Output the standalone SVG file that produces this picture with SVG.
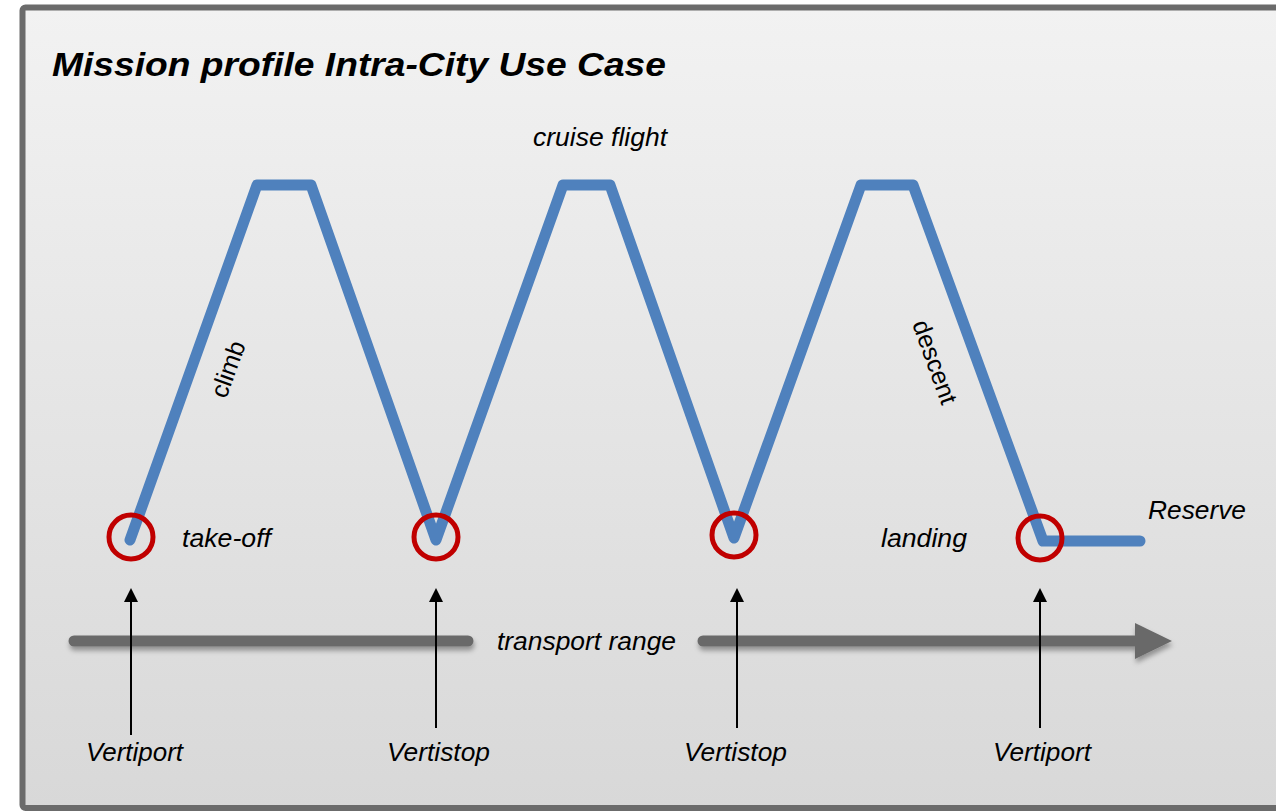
<svg xmlns="http://www.w3.org/2000/svg" width="1276" height="811" viewBox="0 0 1276 811">
  <defs>
    <linearGradient id="bg" x1="0" y1="0" x2="0" y2="1">
      <stop offset="0" stop-color="#f2f2f2"/>
      <stop offset="1" stop-color="#d8d8d8"/>
    </linearGradient>
    <filter id="shadow" x="-5%" y="-50%" width="110%" height="200%">
      <feDropShadow dx="1" dy="4" stdDeviation="2.5" flood-color="#000" flood-opacity="0.35"/>
    </filter>
    <marker id="tip" viewBox="0 0 14 14" refX="1" refY="7" markerWidth="14" markerHeight="14" markerUnits="userSpaceOnUse" orient="auto">
      <path d="M0,0 L14,7 L0,14 Z" fill="#000"/>
    </marker>
  </defs>
  <style>
    .lbl { font-family: "Liberation Sans", Arial, sans-serif; font-style: italic; font-size: 25px; fill: #000; }
    .slope { font-family: "Liberation Sans", Arial, sans-serif; font-size: 25px; fill: #000; }
    .title { font-family: "Liberation Sans", Arial, sans-serif; font-style: italic; font-weight: bold; font-size: 34px; fill: #000; }
    .profile { fill: none; stroke: #4f81bd; stroke-width: 11; stroke-linecap: round; stroke-linejoin: round; }
    .stop { fill: none; stroke: #c00000; stroke-width: 5; }
    .range { stroke: #696969; stroke-width: 11; stroke-linecap: round; fill: none; }
    .pointer { stroke: #000; stroke-width: 2; fill: none; }
  </style>

  <!-- frame -->
  <rect x="22.5" y="7.5" width="1270" height="800.5" rx="3" fill="url(#bg)" stroke="#6b6b6b" stroke-width="6"/>

  <text class="title" x="52" y="76" textLength="614" lengthAdjust="spacingAndGlyphs">Mission profile Intra-City Use Case</text>

  <!-- flight profile -->
  <g id="profile">
    <polyline class="profile" points="130,540 257,185 311,185 436,540 563,185 610,185 734,538 861,185 913,185 1043,541 1140,541"/>
  </g>

  <g id="stops">
    <circle id="stop-takeoff" class="stop" cx="131" cy="537" r="22"/>
    <circle id="stop-2" class="stop" cx="436" cy="537" r="22"/>
    <circle id="stop-3" class="stop" cx="734" cy="535" r="22"/>
    <circle id="stop-landing" class="stop" cx="1040" cy="538" r="22"/>
  </g>

  <!-- transport range arrow -->
  <g id="range" filter="url(#shadow)">
    <line class="range" x1="74" y1="641" x2="468" y2="641"/>
    <line class="range" x1="703" y1="641" x2="1138" y2="641"/>
    <path d="M1135,623 L1172,641 L1135,659 Z" fill="#696969"/>
  </g>
  <text class="lbl" x="497" y="650" textLength="179" lengthAdjust="spacingAndGlyphs">transport range</text>

  <!-- location pointers -->
  <g id="connectors">
    <line class="pointer" x1="131" y1="735" x2="131" y2="601" marker-end="url(#tip)"/>
    <line class="pointer" x1="436" y1="728" x2="436" y2="601" marker-end="url(#tip)"/>
    <line class="pointer" x1="737" y1="728" x2="737" y2="601" marker-end="url(#tip)"/>
    <line class="pointer" x1="1040" y1="728" x2="1040" y2="601" marker-end="url(#tip)"/>
  </g>

  <!-- labels -->
  <g id="labels">
    <text class="lbl" x="533" y="146" textLength="134" lengthAdjust="spacingAndGlyphs">cruise flight</text>
    <text class="lbl" x="182" y="547" textLength="89" lengthAdjust="spacingAndGlyphs">take-off</text>
    <text class="lbl" x="881" y="547" textLength="86" lengthAdjust="spacingAndGlyphs">landing</text>
    <text class="lbl" x="1148" y="519" textLength="98" lengthAdjust="spacingAndGlyphs">Reserve</text>
    <text class="slope" text-anchor="middle" transform="translate(236,372) rotate(-70)">climb</text>
    <text class="slope" text-anchor="middle" transform="translate(927,365) rotate(70)">descent</text>
  </g>

  <g id="places">
    <text class="lbl" x="86" y="761" textLength="97" lengthAdjust="spacingAndGlyphs">Vertiport</text>
    <text class="lbl" x="387" y="761" textLength="103" lengthAdjust="spacingAndGlyphs">Vertistop</text>
    <text class="lbl" x="684" y="761" textLength="103" lengthAdjust="spacingAndGlyphs">Vertistop</text>
    <text class="lbl" x="993" y="761" textLength="98" lengthAdjust="spacingAndGlyphs">Vertiport</text>
  </g>
</svg>
